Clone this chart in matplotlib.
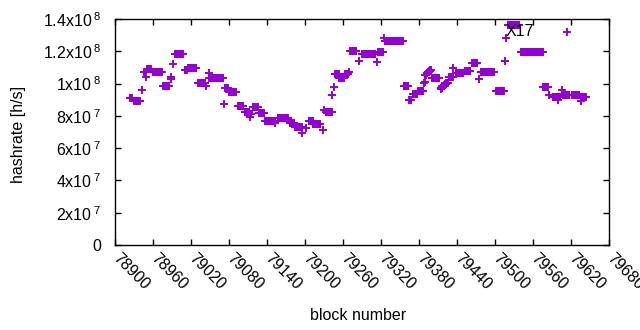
import numpy as np
import matplotlib.pyplot as plt

plt.rcParams['font.family'] = ['Liberation Sans', 'DejaVu Sans']
plt.rcParams['mathtext.fontset'] = 'custom'
plt.rcParams['mathtext.rm'] = 'Liberation Sans'

# runs of blocks with the same hashrate: first block, last block, rate in 1e6 h/s
run_start = [78924, 78930, 78942, 78945, 78949, 78951, 78960, 78976, 78988, 78989,
             78991, 78995, 79011, 79015, 79031, 79044, 79048, 79049, 79072, 79074,
             79080, 79094, 79105, 79113, 79114, 79118, 79127, 79137, 79153, 79157,
             79176, 79184, 79196, 79202, 79206, 79213, 79229, 79230, 79233, 79243,
             79245, 79247, 79254, 79263, 79270, 79271, 79285, 79290, 79313, 79315,
             79325, 79326, 79356, 79364, 79370, 79378, 79388, 79389, 79390, 79392,
             79394, 79396, 79398, 79401, 79414, 79415, 79417, 79419, 79421, 79423,
             79427, 79434, 79438, 79453, 79464, 79475, 79478, 79502, 79515, 79517,
             79520, 79541, 79576, 79585, 79591, 79599, 79600, 79606, 79608, 79614,
             79615, 79622, 79635, 79636]
run_end = [78927, 78940, 78942, 78948, 78949, 78957, 78974, 78985, 78988, 78989,
           78991, 79007, 79013, 79028, 79042, 79044, 79048, 79071, 79072, 79078,
           79091, 79102, 79111, 79113, 79114, 79125, 79135, 79149, 79153, 79173,
           79183, 79195, 79196, 79202, 79212, 79224, 79229, 79230, 79242, 79243,
           79245, 79253, 79261, 79268, 79270, 79281, 79285, 79311, 79313, 79323,
           79325, 79354, 79363, 79368, 79377, 79386, 79388, 79389, 79391, 79393,
           79395, 79397, 79399, 79412, 79414, 79416, 79418, 79420, 79422, 79425,
           79433, 79434, 79449, 79461, 79472, 79475, 79498, 79514, 79515, 79517,
           79538, 79575, 79583, 79585, 79598, 79599, 79603, 79606, 79613, 79614,
           79617, 79633, 79635, 79644]
run_rate = [90.8, 89.5, 96.0, 107.2, 103.9, 109.0, 106.9, 98.5, 102.8, 104.1,
            111.9, 118.1, 108.4, 109.5, 100.5, 98.2, 106.6, 103.3, 87.2, 97.1,
            95.0, 86.3, 82.6, 79.5, 81.0, 85.7, 81.6, 77.0, 75.4, 78.5,
            75.4, 73.3, 69.6, 72.3, 77.0, 74.8, 71.4, 83.6, 82.6, 92.7,
            98.1, 105.9, 103.5, 105.7, 107.4, 120.4, 114.2, 118.1, 113.6, 119.4,
            128.2, 126.6, 98.8, 90.0, 93.4, 95.4, 100.4, 101.2, 105.3, 106.5,
            107.4, 108.0, 108.4, 103.3, 96.5, 97.3, 98.5, 99.1, 99.7, 100.6,
            104.3, 109.5, 106.4, 107.8, 112.6, 102.6, 107.0, 95.2, 114.0, 128.4,
            136.3, 119.6, 97.7, 92.9, 91.7, 89.8, 91.7, 96.0, 92.9, 131.8,
            92.9, 93.2, 89.4, 91.5]

ytick_vals = [0, 2e7, 4e7, 6e7, 8e7, 1e8, 1.2e8, 1.4e8]
ytick_text = ['0', r'2x10$\,^{7}$', r'4x10$\,^{7}$', r'6x10$\,^{7}$', r'8x10$\,^{7}$',
              r'1x10$\,^{8}$', r'1.2x10$\,^{8}$', r'1.4x10$\,^{8}$']
xtick_vals = list(range(78900, 79681, 60))

blocks = np.concatenate([np.arange(s, e + 1) for s, e in zip(run_start, run_end)])
rate = np.concatenate([np.full(e - s + 1, v) for s, e, v in zip(run_start, run_end, run_rate)]) * 1e6

fig = plt.figure(figsize=(6.4, 3.3), dpi=100)
ax = fig.add_axes([115 / 640, 85 / 330, 494 / 640, 226 / 330])
ax.plot(blocks, rate, '+', color='#9400d3', ms=6, mew=1.4)

ax.set_xlim(78900, 79680)
ax.set_ylim(0, 1.4e8)
ax.set_xticks(xtick_vals)
ax.set_xticklabels([str(v) for v in xtick_vals], rotation=-45, ha='left', va='center',
                   rotation_mode='anchor')
ax.set_yticks(ytick_vals)
ax.set_yticklabels(ytick_text)
ax.tick_params(direction='in', top=True, right=True, length=4, width=1, labelsize=11.5)
ax.tick_params(axis='y', pad=10)
ax.tick_params(axis='x', pad=8)
for s in ax.spines.values():
    s.set_linewidth(1)

ax.text(79517, 1.32e8, 'X17', ha='left', va='center', fontsize=11.5)

fig.text(358 / 640, 1 - 316 / 330, 'block number', ha='center', va='center', fontsize=11.5)
fig.text(19 / 640, 1 - 134 / 330, 'hashrate [h/s]', ha='center', va='center',
         rotation=90, fontsize=11.5)

fig.savefig('out.png', dpi=100)
